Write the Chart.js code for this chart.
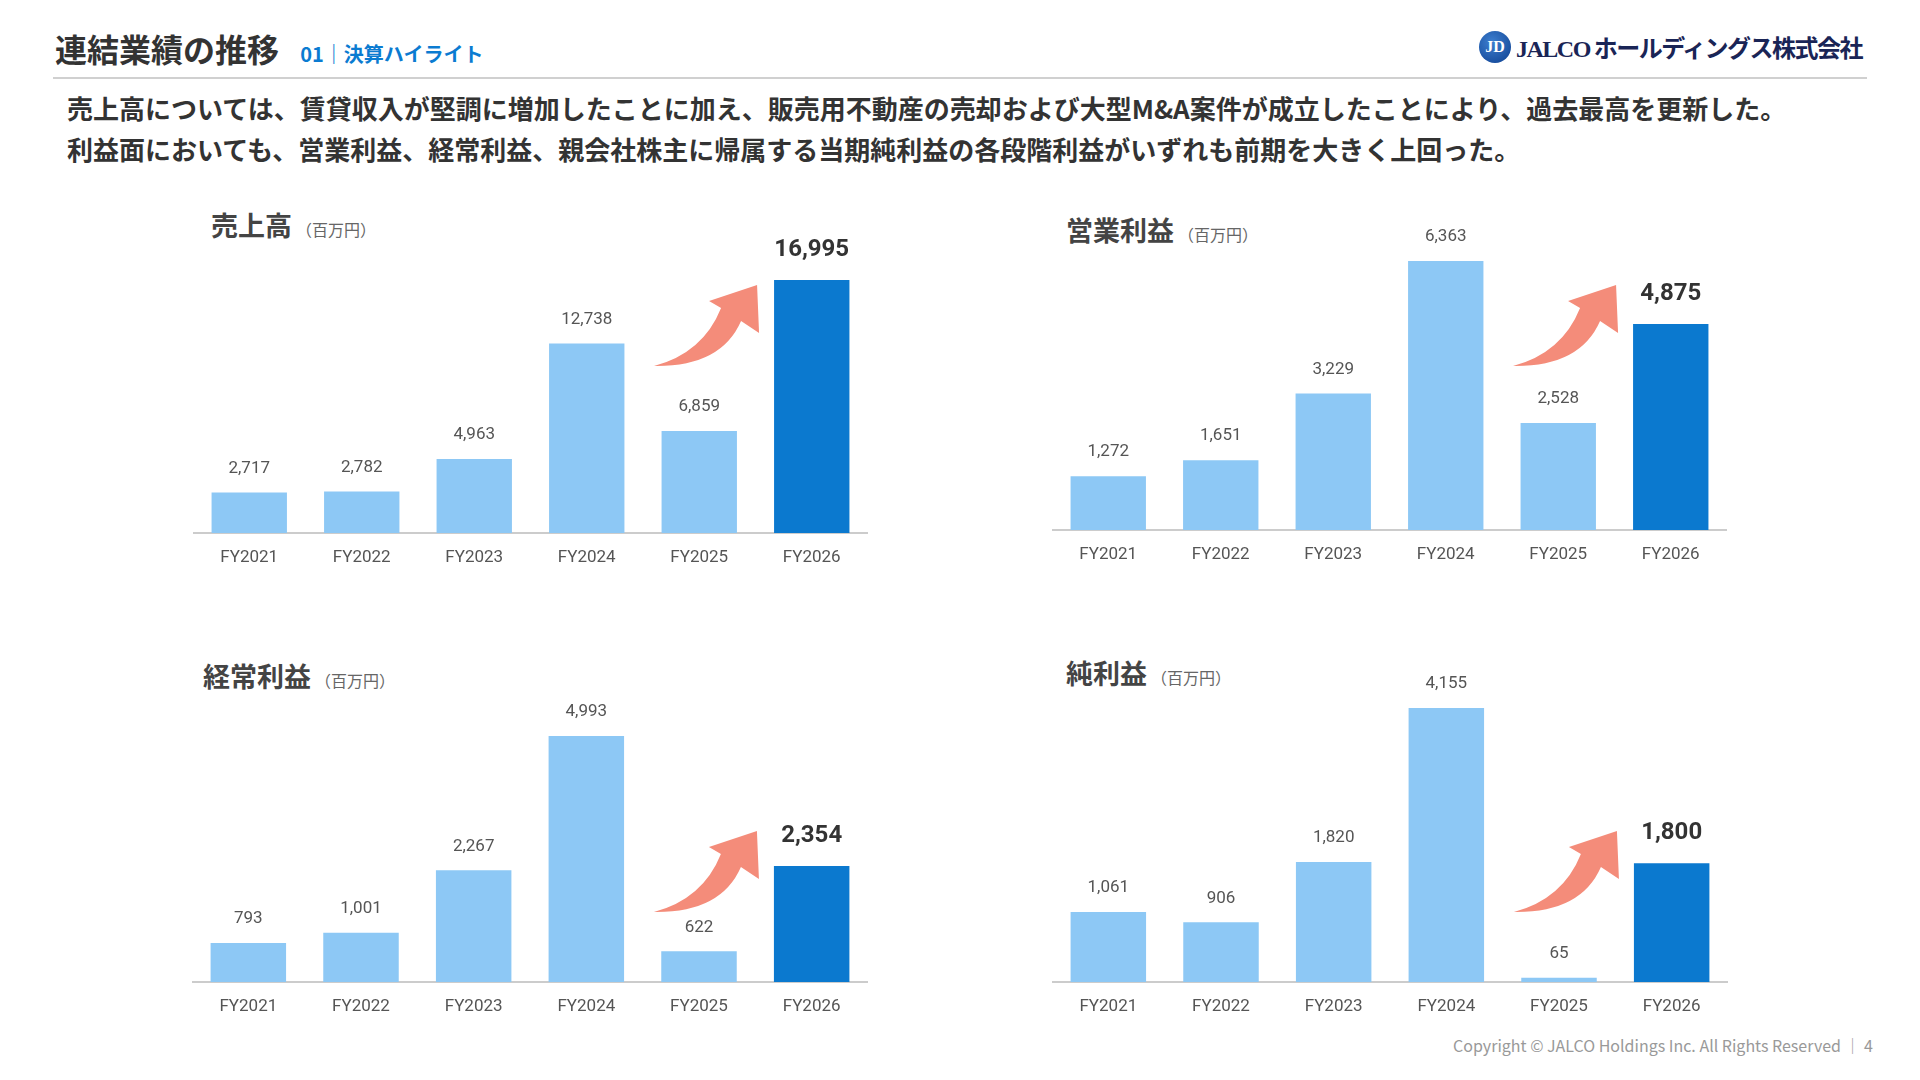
<!DOCTYPE html>
<html><head><meta charset="utf-8">
<script src="https://cdn.jsdelivr.net/npm/chart.js@4.4.1/dist/chart.umd.min.js"></script>
<style>
body{margin:0;width:1920px;height:1080px;background:#fff;font-family:"Noto Sans CJK JP","Noto Sans",sans-serif;position:relative;overflow:hidden;color:#333}
.abs{position:absolute;white-space:nowrap}
.ct{font-size:27px;font-weight:bold;color:#444}
.ct span{font-size:16px;font-weight:normal;color:#666;margin-left:4px}
canvas{position:absolute}
</style></head><body>
<div class="abs" style="left:55px;top:25px;font-size:32px;font-weight:bold">連結業績の推移 <span style="font-size:20px;color:#0b7bd1;margin-left:14px">01｜決算ハイライト</span></div>
<div class="abs" style="left:1479px;top:31px;width:32px;height:32px;border-radius:50%;background:radial-gradient(circle at 40% 35%,#3d7fd0,#0d3f8f);color:#fff;font:bold 16px 'Liberation Serif';text-align:center;line-height:32px">JD</div>
<div class="abs" style="left:1516px;top:29px;font-size:24px;font-weight:bold;color:#1a2556;letter-spacing:-1.5px"><span style="font-family:'Liberation Serif'">JALCO</span> ホールディングス株式会社</div>
<div class="abs" style="left:53px;top:77px;width:1814px;height:2px;background:#d0d0d0"></div>
<div class="abs" style="left:67px;top:87px;font-size:26px;font-weight:bold;line-height:41px">売上高については、賃貸収入が堅調に増加したことに加え、販売用不動産の売却および大型M&amp;A案件が成立したことにより、過去最高を更新した。<br>利益面においても、営業利益、経常利益、親会社株主に帰属する当期純利益の各段階利益がいずれも前期を大きく上回った。</div>
<div class="abs ct" style="left:211px;top:205px">売上高<span>（百万円）</span></div>
<div class="abs ct" style="left:1066px;top:210px">営業利益<span>（百万円）</span></div>
<div class="abs ct" style="left:203px;top:656px">経常利益<span>（百万円）</span></div>
<div class="abs ct" style="left:1066px;top:653px">純利益<span>（百万円）</span></div>
<div class="abs" style="right:47px;top:1033px;font-size:16px;color:#999">Copyright © JALCO Holdings Inc. All Rights Reserved ｜ 4</div>
<canvas id="c0"></canvas><canvas id="c1"></canvas><canvas id="c2"></canvas><canvas id="c3"></canvas>
<script>
const categories=["FY2021","FY2022","FY2023","FY2024","FY2025","FY2026"];
const sales=[2717,2782,4963,12738,6859,16995];
const operatingIncome=[1272,1651,3229,6363,2528,4875];
const ordinaryIncome=[793,1001,2267,4993,622,2354];
const netIncome=[1061,906,1820,4155,65,1800];
const seriesList=[sales,operatingIncome,ordinaryIncome,netIncome];
const yMax=[20354,7096,7753,5793];
const PAD=40;
// layout: left, plot top, width, height, arrow offset from chart top, plot height
const boxes=[[193,230,675,343,54,303],[1052,230,675,340,54,300],[192,600,676,422,230,382],[1052,600,676,422,230,382]];
const fmt=v=>v.toLocaleString('en-US');
const deco={id:'deco',afterDatasetsDraw(ch,a,o){
 const c=ch.ctx,meta=ch.getDatasetMeta(0),d=ch.data.datasets[0].data,n=d.length;
 c.save();c.textAlign='center';c.textBaseline='middle';
 meta.data.forEach((b,i)=>{const last=i===n-1;
  c.font=(last?'bold 24px':'17px')+' Roboto,"Noto Sans",sans-serif';c.fillStyle=last?'#333':'#555';
  c.fillText(fmt(d[i]),b.x,b.y-(last?30:24));});
 const lb=meta.data[n-1],L=lb.x-lb.width/2,Y=ch.chartArea.top+o.arrowOff;
 c.fillStyle='#F48C7A';c.beginPath();
 c.moveTo(L-120,Y+82);c.quadraticCurveTo(L-53,Y+83,L-33,Y+37);
 c.lineTo(L-15,Y+49);c.lineTo(L-17,Y+1);c.lineTo(L-65,Y+17);c.lineTo(L-53,Y+24);
 c.quadraticCurveTo(L-71,Y+69,L-120,Y+82);c.fill();c.restore();}};
seriesList.forEach((vals,k)=>{
 const [l,t0,w,h0,ao,ph]=boxes[k];const t=t0-PAD,h=h0+PAD;const cv=document.getElementById('c'+k);
 cv.width=w;cv.height=h;
 cv.style.left=l+'px';cv.style.top=t+'px';cv.style.width=w+'px';cv.style.height=h+'px';
 new Chart(cv,{type:'bar',data:{labels:categories,datasets:[{data:vals,
   backgroundColor:vals.map((v,i)=>i===vals.length-1?'#0B79CF':'#8DC8F5'),barPercentage:0.67,categoryPercentage:1}]},
  options:{responsive:false,animation:false,devicePixelRatio:1,layout:{padding:{top:PAD}},
   plugins:{legend:{display:false},tooltip:{enabled:false},deco:{arrowOff:ao}},
   scales:{y:{display:false,min:0,max:yMax[k]},
    x:{grid:{display:false},border:{color:'#ccc',width:2},ticks:{color:'#555',padding:7,font:{size:17,family:'Roboto,"Noto Sans",sans-serif'}},
     afterFit:s=>{s.height=h0-ph;}}}},plugins:[deco]});
});
</script></body></html>
